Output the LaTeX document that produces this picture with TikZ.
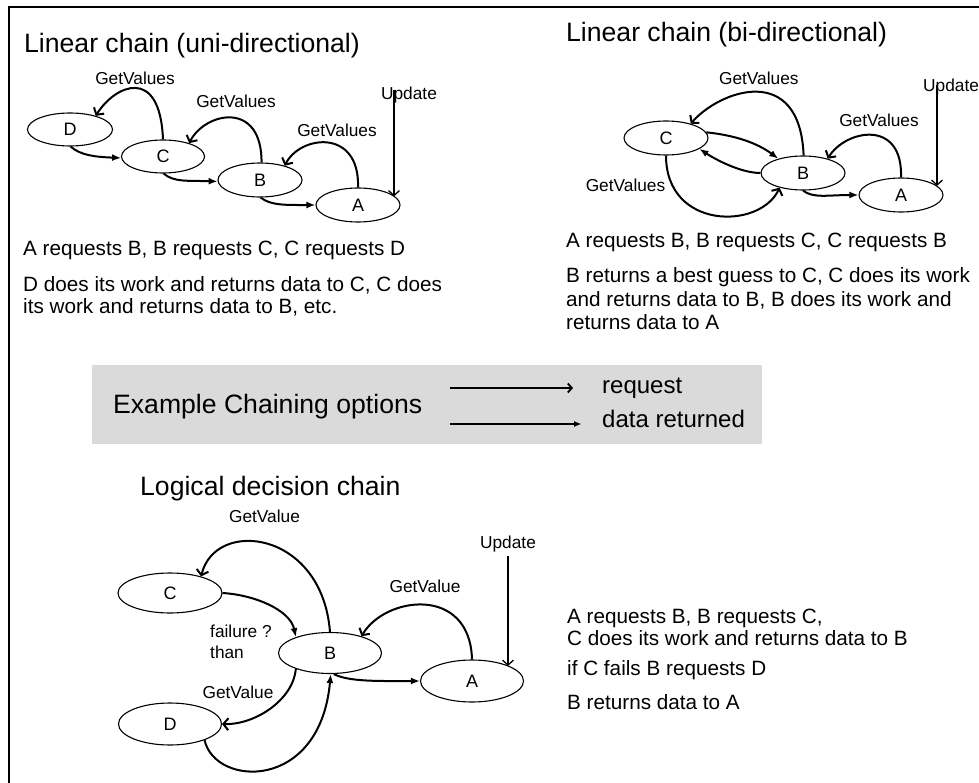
\documentclass[tikz,border=0pt]{standalone}
\usepackage{fontspec}
\setmainfont{Liberation Sans}
\usetikzlibrary{arrows.meta,shapes.geometric}
\definecolor{boxgray}{RGB}{218,218,218}
\newcommand{\fsz}[1]{\fontsize{#1}{#1}\selectfont}
\begin{document}
\begin{tikzpicture}[x=1pt,y=-1pt,
  ell/.style={draw, ellipse, line width=1.1pt, inner sep=0pt, font=\fsz{18}},
  lbl/.style={anchor=base, inner sep=0pt, font=\fsz{17.3}},
  ttl/.style={anchor=base west, inner sep=0pt, font=\fsz{26.6}},
  body/.style={anchor=base west, inner sep=0pt, font=\fsz{20.7}},
  req/.style={line width=2pt, -{Straight Barb[length=5pt,width=12pt]}},
  ret/.style={line width=2pt, -{Latex[length=9pt,width=7pt]}},
  upd/.style={line width=1.3pt, -{Straight Barb[length=5pt,width=11pt]}}]
\useasboundingbox (0,0) rectangle (979,783);
% frame
\draw[line width=2pt] (9,783) -- (9,7) -- (979,7);

% ---------- Linear chain (uni-directional)
\node[ttl] (t1) at (24,53) {Linear chain (uni-directional)};
\node[ell, minimum width=85pt, minimum height=33pt] (D1) at (70,129.5) {D};
\node[ell, minimum width=83pt, minimum height=33pt] (C1) at (163,156.5) {C};
\node[ell, minimum width=84pt, minimum height=34pt] (B1) at (260,180) {B};
\node[ell, minimum width=84pt, minimum height=34pt] (A1) at (358,205) {A};
\draw[ret] (D1.-88) .. controls +(10,9) and +(-25,-1) .. (C1.182);
\draw[ret] (C1.-88) .. controls +(10,9) and +(-28,-1) .. (B1.182);
\draw[ret] (B1.-88) .. controls +(10,8) and +(-30,0) .. (A1.180);
\draw[req] (C1.90) .. controls (160,65) and (115,85) .. (D1.28);
\draw[req] (B1.85) .. controls (262,100) and (205,112) .. (C1.27);
\draw[req] (A1.90) .. controls (360,128) and (300,135) .. (B1.30);
\node[lbl] (g11) at (135,85) {GetValues};
\node[lbl] (g12) at (236,108) {GetValues};
\node[lbl] (g13) at (337,137) {GetValues};
\node[lbl] (u1l) at (409,100) {Update};
\coordinate (u1) at (394,90);
\draw[upd] (u1) -- (u1 |- A1.13);
\node[body] (l1) at (23,256) {A requests B, B requests C, C requests D};
\node[body] (l2) at (23,292) {D does its work and returns data to C, C does};
\node[body] (l3) at (23,314) {its work and returns data to B, etc.};

% ---------- Linear chain (bi-directional)
\node[ttl] (t2) at (566,42) {Linear chain (bi-directional)};
\node[ell, minimum width=84pt, minimum height=34pt] (C2) at (666,138) {C};
\node[ell, minimum width=84pt, minimum height=34pt] (B2) at (803,173) {B};
\node[ell, minimum width=84pt, minimum height=34pt] (A2) at (901,195) {A};
\draw[ret] (C2.8) .. controls +(30,3) and +(-20,-15) .. (B2.150);
\draw[ret] (B2.180) .. controls +(-20,0) and +(15,10) .. (C2.-18);
\draw[ret] (B2.-90) .. controls +(10,8) and +(-30,0) .. (A2.180);
\draw[req] (B2.88) .. controls (800,62) and (720,90) .. (C2.30);
\draw[req] (C2.-90) .. controls (666,230) and (760,230) .. (B2.212);
\draw[req] (A2.90) .. controls (903,118) and (845,130) .. (B2.30);
\node[lbl] (g21) at (758.8,85) {GetValues};
\node[lbl] (g22) at (879,127) {GetValues};
\node[lbl] (g23) at (625.5,192) {GetValues};
\node[lbl, anchor=base west] (u2l) at (923,92) {Update};
\coordinate (u2) at (937,85);
\draw[upd] (u2) -- (u2 |- A2.14);
\node[body] (r1) at (566,248) {A requests B, B requests C, C requests B};
\node[body] (r2) at (566,283) {B returns a best guess to C, C does its work};
\node[body] (r3) at (566,307) {and returns data to B, B does its work and};
\node[body] (r4) at (566,330) {returns data to A};

% ---------- legend box
\fill[boxgray] (92,365) rectangle (762,444);
\node[ttl] (ex) at (113,413) {Example Chaining options};
\coordinate (q0) at (450,388);
\coordinate (q1) at (573,388);
\draw[line width=1.8pt, -{Straight Barb[length=4pt,width=9pt]}] (q0) -- (q1);
\coordinate (d0) at (450,424);
\coordinate (d1) at (582,424);
\draw[line width=2.2pt, -{Latex[length=8pt,width=6pt]}] (d0) -- (d1);
\node[anchor=base west, inner sep=0pt, font=\fsz{24}] (lq) at (602,393) {request};
\node[anchor=base west, inner sep=0pt, font=\fsz{24}] (ld) at (602,427) {data returned};

% ---------- Logical decision chain
\node[ttl] (t3) at (140,495) {Logical decision chain};
\node[ell, minimum width=104pt, minimum height=40pt] (C3) at (170,593) {C};
\node[ell, minimum width=103pt, minimum height=41pt] (B3) at (330,653) {B};
\node[ell, minimum width=103pt, minimum height=42pt] (A3) at (472,681) {A};
\node[ell, minimum width=103pt, minimum height=42pt] (D3) at (170,724) {D};
\draw[req] (B3.90) .. controls (322,530) and (215,518) .. (C3.28);
\draw[ret] (C3.0) .. controls (255,595) and (290,610) .. (B3.155);
\draw[req] (A3.90) .. controls (470,585) and (385,596) .. (B3.28);
\draw[ret] (B3.-80) .. controls +(15,8) and +(-40,0) .. (A3.180);
\draw[req] (B3.205) .. controls (293,700) and (255,725) .. (D3.0);
\draw[ret] (D3.-25) .. controls (215,787) and (320,792) .. (B3.-88);
\node[lbl] (g31) at (264.5,522) {GetValue};
\node[lbl] (g32) at (425,592) {GetValue};
\node[lbl] (g33) at (238,698) {GetValue};
\node[lbl] (u3l) at (508,548) {Update};
\node[lbl, anchor=base west] (f1) at (210,637) {failure ?};
\node[lbl, anchor=base west] (f2) at (210,658) {than};
\coordinate (u3) at (508,556);
\draw[upd] (u3) -- (u3 |- A3.22);
\node[body] (s1) at (567,623) {A requests B, B requests C,};
\node[body] (s2) at (567,645) {C does its work and returns data to B};
\node[body] (s3) at (567,675) {if C fails B requests D};
\node[body] (s4) at (567,709) {B returns data to A};
\end{tikzpicture}
\end{document}
